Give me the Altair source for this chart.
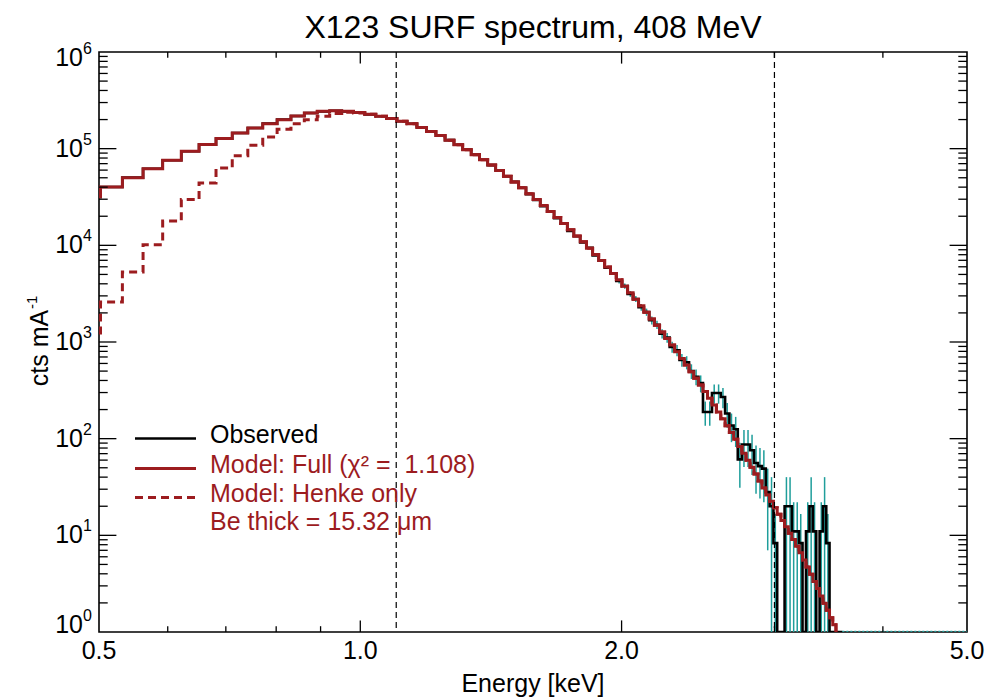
import altair as alt
import pandas as pd

# ---------------- data ----------------
BIN_START = 0.472   # keV, lower edge of first plotted channel
BIN_WIDTH = 0.03    # keV per channel

# full model, log10(cts/mA) per channel (channel 0 starts at BIN_START)
full_model_log10 = [
    4.500, 4.603, 4.700, 4.793, 4.880, 4.973, 5.042, 5.104, 5.162, 5.214,
    5.259, 5.300, 5.338, 5.369, 5.386, 5.393, 5.386, 5.373, 5.355, 5.335,
    5.311, 5.283, 5.257, 5.219, 5.178, 5.135, 5.088, 5.040, 4.990, 4.938,
    4.885, 4.830, 4.774, 4.715, 4.656, 4.595, 4.534, 4.474, 4.412, 4.350,
    4.288, 4.225, 4.161, 4.097, 4.036, 3.971, 3.906, 3.843, 3.776, 3.709,
    3.645, 3.577, 3.509, 3.441, 3.375, 3.307, 3.239, 3.173, 3.104, 3.036,
    2.968, 2.900, 2.830, 2.763, 2.693, 2.624, 2.556, 2.488, 2.417, 2.347,
    2.277, 2.205, 2.134, 2.063, 1.993, 1.920, 1.850, 1.778, 1.705, 1.634,
    1.562, 1.489, 1.417, 1.352, 1.285, 1.219, 1.154, 1.088, 1.021, 0.956,
    0.888, 0.821, 0.746, 0.673, 0.598, 0.523, 0.449, 0.373, 0.298, 0.224,
    0.148, 0.075, -0.050, -0.120,
]

# Henke-only model, log10, channels 0..17 (identical to the full model afterwards)
henke_low_log10 = [
    3.050, 3.414, 3.724, 4.007, 4.252, 4.473, 4.645, 4.800, 4.928, 5.035,
    5.121, 5.200, 5.259, 5.300, 5.335, 5.363, 5.378, 5.370,
]

# observed spectrum, cts/mA, channels 36..99 (below channel 36 it lies on the model)
OBS_FIRST = 36
observed_counts = [
    33900, 29500, 25400, 22400, 19100, 16700, 14100, 12400, 10700, 9440,
    7850, 6920, 5860, 5150, 4270, 3800, 3150, 2790, 2290, 2040,
    1680, 1510, 1220, 1110, 891, 822, 653, 617, 501, 437,
    376, 189, 189, 297, 297, 270, 182, 137, 125, 61,
    87, 87, 76, 56, 52, 49, 28, 20, 8.3, 0,
    0, 20, 20, 11, 11, 8.3, 0, 11, 20, 11,
    0, 11, 20, 8.3,
]
OBS_LAST_CHANNEL = 103      # observed zeros continue to here (black)

# 1-sigma errors on observed, channels 50..99
ERR_FIRST = 50
observed_errors = [
    253, 239, 217, 204, 185, 175, 159, 151, 135, 129,
    116, 111, 99, 96, 87, 81, 75, 53, 53, 67,
    67, 64, 52, 45, 43, 30, 36, 36, 34, 29,
    28, 27, 21, 20, 8.3, 0, 0, 20, 20, 11,
    11, 8.3, 0, 11, 20, 11, 0, 11, 20, 8.3,
]

marker_energies = [1.10, 3.00]
x_tick_values = [0.5, 1.0, 2.0, 5.0]
x_tick_labels = ["0.5", "1.0", "2.0", "5.0"]
x_minor_values = [0.6, 0.7, 0.8, 0.9, 3.0, 4.0]
y_decades = [1, 10, 100, 1e3, 1e4, 1e5, 1e6]
y_exponents = ["0", "1", "2", "3", "4", "5", "6"]

TITLE = "X123 SURF spectrum, 408 MeV"
X_TITLE = "Energy [keV]"
legend_labels = ["Observed", "Model: Full (\u03c7\u00b2 = \u00a01.108)",
                 "Model: Henke only", "Be thick = 15.32 \u03bcm"]

# ---------------- style ----------------
W, H = 868, 580
RED = "#9c1c1f"
TEAL = "#1f9e9b"
FONT = "Liberation Sans"

xs = alt.Scale(type="log", domain=[0.5, 5.0], nice=False)
ys = alt.Scale(type="log", domain=[1, 1e6], nice=False)


def X(f="e"):
    return alt.X(f"{f}:Q", scale=xs, axis=None)


def Y(f="v"):
    return alt.Y(f"{f}:Q", scale=ys, axis=None)


def step_frame(values):
    rows = [{"e": BIN_START + k * BIN_WIDTH, "v": v} for k, v in enumerate(values)]
    rows.append({"e": BIN_START + len(values) * BIN_WIDTH, "v": values[-1]})
    return pd.DataFrame(rows)


full_vals = [10 ** v for v in full_model_log10]
henke_vals = [10 ** v for v in henke_low_log10] + full_vals[len(henke_low_log10):]
obs_vals = full_vals[:OBS_FIRST] + list(observed_counts)
obs_vals += [0] * (OBS_LAST_CHANNEL + 1 - len(obs_vals))
obs_plot = [v if v > 0 else 1.0 for v in obs_vals]   # zero counts sit on the floor

err_rows = []
for i, e in enumerate(observed_errors):
    k = ERR_FIRST + i
    v = obs_vals[k]
    if e <= 0:
        continue
    lo = v - e
    err_rows.append({"e": BIN_START + (k + 0.5) * BIN_WIDTH,
                     "lo": lo if lo > 0 else 0.5, "hi": v + e})
err_df = pd.DataFrame(err_rows)

floor_df = pd.DataFrame({"e": [BIN_START + (OBS_LAST_CHANNEL + 1) * BIN_WIDTH, 5.0],
                         "v": [1.0, 1.0]})

layers = []

# error bars
layers.append(alt.Chart(err_df).mark_rule(color=TEAL, strokeWidth=1.5, clip=True)
              .encode(x=X(), y=Y("lo"), y2=alt.Y2("hi:Q")))
# observed
layers.append(alt.Chart(step_frame(obs_plot)).mark_line(
    interpolate="step-after", color="black", strokeWidth=2.6, clip=True)
    .encode(x=X(), y=Y()))
layers.append(alt.Chart(floor_df).mark_line(color=TEAL, strokeWidth=2.5,
                                            strokeDash=[2, 2], clip=True)
              .encode(x=X(), y=Y()))
# models
layers.append(alt.Chart(step_frame(henke_vals)).mark_line(
    interpolate="step-after", color=RED, strokeWidth=3, strokeDash=[8, 5], clip=True)
    .encode(x=X(), y=Y()))
layers.append(alt.Chart(step_frame(full_vals)).mark_line(
    interpolate="step-after", color=RED, strokeWidth=3, clip=True)
    .encode(x=X(), y=Y()))
# dashed markers
layers.append(alt.Chart(pd.DataFrame({"e": marker_energies})).mark_rule(
    color="black", strokeWidth=1.2, strokeDash=[6, 4])
    .encode(x=X(), y=alt.value(0), y2=alt.value(H)))

# inward ticks
XMAJ, XMIN = 11.6, 5.8
YMAJ, YMIN = 17.4, 8.7
y_major = [10, 100, 1e3, 1e4, 1e5]
y_minor = [m * 10 ** d for d in range(6) for m in range(2, 10)]
x_major = [v for v in x_tick_values if 0.5 < v < 5.0]


def xticks(vals, y0, y1):
    return alt.Chart(pd.DataFrame({"e": vals})).mark_rule(color="black", strokeWidth=1.3) \
        .encode(x=X(), y=alt.value(y0), y2=alt.value(y1))


def yticks(vals, x0, x1):
    return alt.Chart(pd.DataFrame({"v": vals})).mark_rule(color="black", strokeWidth=1.3) \
        .encode(y=Y(), x=alt.value(x0), x2=alt.value(x1))


layers += [
    xticks(x_major, H, H - XMAJ), xticks(x_minor_values, H, H - XMIN),
    xticks(x_major, 0, XMAJ), xticks(x_minor_values, 0, XMIN),
    yticks(y_major, 0, YMAJ), yticks(y_minor, 0, YMIN),
    yticks(y_major, W - YMAJ, W), yticks(y_minor, W - YMIN, W),
]

# y labels 10^n
ylab = pd.DataFrame({"v": y_decades, "base": ["10"] * len(y_decades), "exp": y_exponents})
for cond, shift in [("datum.v > 1 && datum.v < 1e6", 0), ("datum.v == 1", -7),
                    ("datum.v == 1e6", 6)]:
    base = alt.Chart(ylab).transform_filter(cond)
    layers.append(base.mark_text(align="right", baseline="middle", fontSize=25, font=FONT,
                                 color="black", dy=shift)
                  .encode(y=Y(), x=alt.value(-16), text="base:N"))
    layers.append(base.mark_text(align="left", baseline="middle", fontSize=16, font=FONT,
                                 color="black", dy=shift - 9)
                  .encode(y=Y(), x=alt.value(-16), text="exp:N"))

# x labels
layers.append(alt.Chart(pd.DataFrame({"e": x_tick_values, "t": x_tick_labels}))
              .mark_text(baseline="middle", fontSize=25, font=FONT, color="black")
              .encode(x=X(), y=alt.value(H + 19), text="t:N"))


def label(txt, x, y, size, color="black", angle=0, align="center"):
    kw = dict(baseline="middle", fontSize=size, font=FONT, color=color, align=align)
    if angle:
        kw["angle"] = angle
    return alt.Chart(pd.DataFrame({"t": [txt]})).mark_text(**kw) \
        .encode(x=alt.value(x), y=alt.value(y), text="t:N")


layers.append(label(TITLE, W / 2, -24, 32))
layers.append(label(X_TITLE, W / 2, H + 52, 25))
layers.append(label("cts mA", -59, H / 2 + 6, 25, angle=270))
layers.append(label("-1", -67, H / 2 - 33, 15, angle=270, align="left"))

# legend
leg_y = [386.5, 416.5, 445.5]
layers.append(alt.Chart(pd.DataFrame({"k": [0]})).mark_rule(color="black", strokeWidth=2.6)
              .encode(x=alt.value(36), x2=alt.value(97), y=alt.value(leg_y[0])))
layers.append(alt.Chart(pd.DataFrame({"k": [0]})).mark_rule(color=RED, strokeWidth=3)
              .encode(x=alt.value(36), x2=alt.value(97), y=alt.value(leg_y[1])))
layers.append(alt.Chart(pd.DataFrame({"k": [0]})).mark_rule(color=RED, strokeWidth=3,
                                                         strokeDash=[8, 5])
              .encode(x=alt.value(36), x2=alt.value(97), y=alt.value(leg_y[2])))
text_y = [383, 413, 441.5, 470]
for i, t in enumerate(legend_labels):
    layers.append(label(t, 111, text_y[i], 25, color="black" if i == 0 else RED,
                        align="left"))

chart = alt.layer(*layers).properties(
    width=W, height=H,
    padding={"left": 99, "top": 52, "right": 22, "bottom": 68},
    autosize=alt.AutoSizeParams(type="none"),
    background="white",
).configure_view(stroke="black", strokeWidth=1.6)

chart.save("out.html", embed_options={"renderer": "svg", "actions": False})
